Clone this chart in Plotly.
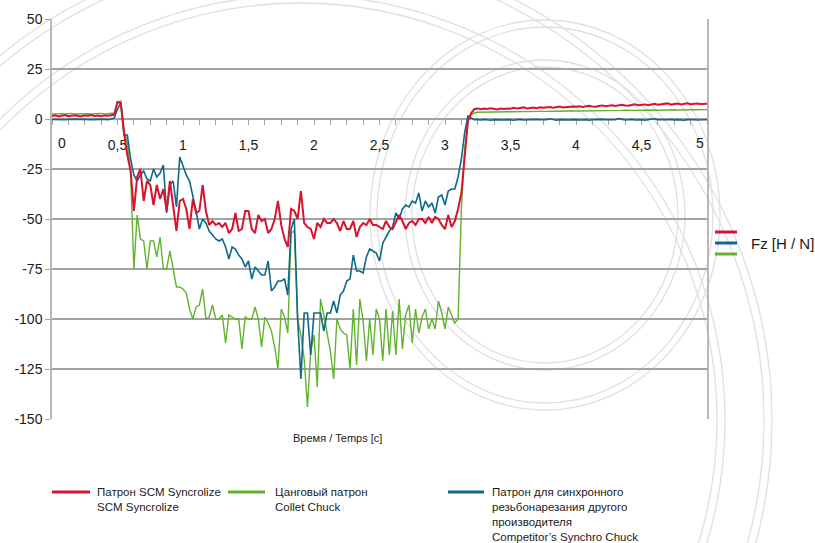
import numpy as np
import plotly.graph_objects as go

# Axial force Fz [N] during a tapping cycle, sampled every 25 ms (0 ... 5 s)
DT = 0.025

scm_syncrolize = (
    [1.5, 1.8, 1.3, 1.6, 2.0, 1.4, 1.7, 1.9, 1.5, 1.3, 1.8, 1.6, 2.0, 1.5, 1.7, 1.4, 1.8, 1.6, 1.9]
    + [2.2, 8.5, 8.0, -7, -18, -26]
    + [-46, -29, -25, -41, -31, -33, -43, -33, -40, -35, -46, -31, -43, -56, -41, -40, -45, -55, -40, -47]
    + [-46, -33, -46, -53, -51, -53, -52, -54, -52, -57, -55, -47, -56, -55, -46, -46, -55, -57, -48, -51,
       -50, -57, -55, -50, -41, -53, -60, -64, -45, -46, -50, -36, -52, -54]
    + [-55, -60, -52, -54, -50, -52, -52, -50, -52, -56, -51, -55, -55, -51, -59, -54, -52, -53, -50, -53]
    + [-53, -54, -55, -51, -54, -55, -51, -48, -51, -55, -52, -51, -53, -50, -50, -52, -49, -52, -49, -50,
       -53, -55, -48, -54, -51, -45, -37, -19, -1, 3, 5]
    + [5.3, 4.9, 5.2, 5.0, 5.4, 5.1, 4.8, 5.2, 5.0, 5.3, 5.1,
       5.6, 5.2, 5.5, 5.8, 5.3, 5.5, 5.7, 5.4, 5.9, 5.6, 5.8, 6.0, 5.6, 5.9, 6.2, 5.8, 6.0, 5.9, 6.3, 6.1,
       6.4, 6.0, 6.2, 6.6, 6.3, 6.1, 6.5, 6.8, 6.4, 6.6, 6.9, 6.5, 6.7, 7.1, 6.8, 6.6, 7.0, 7.4, 6.9, 7.1,
       7.3, 6.9, 7.2, 7.6, 7.1, 7.3, 7.5, 7.8, 7.2, 7.4, 7.7, 7.3, 7.5, 7.9, 7.4, 7.6, 7.8, 7.5, 7.7, 7.6]
)

collet_chuck = (
    [2.5, 2.6, 2.4, 2.7, 2.5, 2.6, 2.8, 2.5, 2.6, 2.4, 2.7, 2.6, 2.5, 2.7, 2.6, 2.8, 2.5, 2.6, 2.7]
    + [3, 8.5, 9, -6, -12, -27]
    + [-75, -48, -60, -61, -75, -61, -61, -69, -59, -75, -75, -66, -76, -84, -84, -85, -87, -95, -100, -94]
    + [-93, -85, -100, -99, -93, -100, -100, -98, -112, -98, -99, -100, -100, -115, -99, -100, -100, -94,
       -100, -114, -99, -102, -106, -114, -125, -95, -99, -107, -57, -56, -100, -108, -120, -144]
    + [-116, -108, -134, -90, -98, -108, -116, -130, -100, -105, -107, -108, -125, -95, -123]
    + [-90, -101, -121, -100, -118, -95, -100, -121, -95, -118, -96, -118, -90, -115, -98, -93, -112, -95,
       -107, -99, -95, -105, -100, -105, -91, -97, -105, -94, -98, -102, -100, -45, -15, -1, 2, 3]
    + [3.4, 3.5, 3.4, 3.6, 3.5, 3.5, 3.6, 3.5, 3.7, 3.6,
       3.6, 3.7, 3.6, 3.8, 3.7, 3.7, 3.8, 3.7, 3.9, 3.8,
       3.8, 3.9, 3.8, 4.0, 3.9, 3.9, 4.0, 3.9, 4.0, 4.1,
       4.0, 4.0, 4.1, 4.0, 4.2, 4.1, 4.1, 4.2, 4.1, 4.3,
       4.2, 4.2, 4.3, 4.2, 4.3, 4.4, 4.3, 4.3, 4.4, 4.3,
       4.4, 4.5, 4.4, 4.4, 4.5, 4.4, 4.5, 4.6, 4.5, 4.5,
       4.6, 4.5, 4.6, 4.6, 4.7, 4.6, 4.6, 4.7, 4.6, 4.7, 4.7]
)

competitor_chuck = (
    [-0.2, -0.3, -0.1, -0.2, -0.4, -0.2, -0.1, -0.3, -0.2, -0.2, -0.3, -0.1, -0.2, -0.3, -0.2, -0.1, -0.2, -0.3, -0.1]
    + [0.5, 5, 8, -8, -8, -20]
    + [-28, -31, -28, -26, -30, -31, -25, -29, -27, -23, -47, -33, -31, -44, -19, -23, -28, -31, -38, -46]
    + [-55, -50, -52, -56, -58, -60, -61, -60, -64, -70, -64, -65, -68, -70, -74, -71, -80, -74, -76, -78,
       -78, -71, -86, -84, -81, -81, -80, -88, -55, -50, -100, -130, -97, -97]
    + [-118, -97, -97, -97, -106, -97, -97, -91, -97, -88, -86, -81, -80, -68, -76, -76, -77, -69, -65, -66]
    + [-67, -71, -62, -59, -56, -54, -47, -50, -45, -43, -44, -41, -42, -37, -46, -41, -44, -42, -47, -39,
       -38, -43, -36, -35, -35, -29, -20, -7, 1.5, 0.5, -0.3]
    + [-0.3, -0.5, -0.2, -0.4, -0.6, -0.3, -0.4, -0.2, -0.5, -0.3,
       -0.4, -0.6, -0.3, -0.2, -0.5, -0.4, -0.3, -0.5, -0.2, -0.4,
       -0.5, -0.3, 0.1, -0.4, -0.6, -0.3, -0.4, -0.2, -0.5, -0.3,
       -0.4, -0.2, -0.5, -0.3, -0.6, -0.4, -0.3, -0.5, -0.2, -0.4,
       -0.3, -0.5, -0.4, 0.2, -0.3, -0.5, -0.4, -0.2, -0.5, -0.3,
       -0.4, -0.6, -0.3, -0.2, 0.1, -0.4, -0.5, -0.3, -0.4, -0.2,
       -0.5, -0.3, -0.4, -0.6, -0.3, -0.2, -0.4, -0.5, -0.3, -0.4, -0.3]
)

y_ticks = [50, 25, 0, -25, -50, -75, -100, -125, -150]
x_ticks = [0, 0.5, 1, 1.5, 2, 2.5, 3, 3.5, 4, 4.5, 5]
x_labels = ["0", "0,5", "1", "1,5", "2", "2,5", "3", "3,5", "4", "4,5", "5"]

scm_name = "Патрон SCM Syncrolize<br>SCM Syncrolize"
collet_name = "Цанговый патрон<br>Collet Chuck"
competitor_name = ("Патрон для синхронного<br>резьбонарезания другого<br>производителя<br>"
                   "Competitor’s Synchro Chuck")
quantity_label = "Fz [H / N]"
time_label = "Время / Temps [c]"

RED = "#d8132f"
GREEN = "#62b22f"
TEAL = "#0f6888"
GRID = "#a3a3a3"
FAINT = "#e0e0e0"
SANS = "Liberation Sans, Arial, sans-serif"
INK = "#1a1a1a"

series = [
    (collet_name, collet_chuck, GREEN, 1.4),
    (competitor_name, competitor_chuck, TEAL, 1.6),
    (scm_name, scm_syncrolize, RED, 2.0),
]

fig = go.Figure()
for name, values, color, width in series:
    t = np.arange(len(values)) * DT
    fig.add_trace(go.Scatter(
        x=t, y=values, mode="lines", name=name.replace("<br>", " "),
        showlegend=False, line=dict(color=color, width=width),
    ))


# the plot area is 655 x 400 px, starting at (52, 19) from the top-left corner
def px_x(px):
    return (px - 52) / 655


def px_y(py):
    return (419 - py) / 400


def key_line(x0, x1, py, color):
    return dict(type="line", xref="paper", yref="paper",
                x0=px_x(x0), x1=px_x(x1), y0=px_y(py), y1=px_y(py),
                line=dict(color=color, width=3))


def key_text(text, px, py, size, anchor="top"):
    return dict(text=text, xref="paper", yref="paper", x=px_x(px), y=px_y(py),
                xanchor="left", yanchor=anchor, align="left", showarrow=False,
                font=dict(family=SANS, size=size, color=INK))


def ring(cx, cy, rx, ry):
    # faint background outline of the chuck drawing
    return dict(type="circle", xref="paper", yref="paper", layer="below",
                x0=px_x(cx - rx), x1=px_x(cx + rx), y0=px_y(cy + ry), y1=px_y(cy - ry),
                line=dict(color=FAINT, width=1.3))


shapes = [
    ring(300, 420, 425, 425), ring(300, 420, 417, 417),
    ring(300, 420, 472, 472), ring(300, 420, 464, 464),
    ring(545, 215, 175, 195), ring(545, 215, 168, 188),
    ring(545, 215, 140, 155), ring(545, 215, 133, 148),
    # side key: one label for the three force curves
    key_line(715, 737, 232, RED),
    key_line(715, 737, 243, TEAL),
    key_line(715, 737, 254, GREEN),
    # bottom key
    key_line(52, 90, 492, RED),
    key_line(228, 265, 492, GREEN),
    key_line(448, 484, 492, TEAL),
]

# the end labels of the time axis sit slightly inside the plot edges
inner_labels = {0: 10, 5: -7}
tick_text = [("" if v in inner_labels else lab) for v, lab in zip(x_ticks, x_labels)]

annotations = [
    key_text(quantity_label, 749, 243, 15, anchor="middle"),
    key_text(scm_name, 95, 484, 11.5),
    key_text(collet_name, 273, 484, 11.5),
    key_text(competitor_name, 490, 484, 11.5),
    dict(text=time_label, xref="paper", yref="paper", x=px_x(337), y=px_y(438),
         xanchor="center", yanchor="middle", showarrow=False,
         font=dict(family=SANS, size=11, color=INK)),
]
for v, lab in zip(x_ticks, x_labels):
    if v in inner_labels:
        annotations.append(dict(
            text=lab, xref="x", yref="paper", x=v, y=px_y(143), xshift=inner_labels[v],
            xanchor="center", yanchor="middle", showarrow=False,
            font=dict(family=SANS, size=14, color=INK)))

fig.update_layout(
    width=815, height=543,
    margin=dict(l=52, r=108, t=19, b=124, autoexpand=False),
    paper_bgcolor="white", plot_bgcolor="rgba(0,0,0,0)",
    separators=", ",
    showlegend=False,
    font=dict(family=SANS, size=14, color=INK),
    xaxis=dict(
        range=[0, 5], anchor="free", position=0.75, layer="below traces",
        tickvals=x_ticks, ticktext=tick_text,
        showgrid=False, zeroline=False,
        showline=True, linecolor=GRID, linewidth=1.5,
        ticks="outside", ticklen=5, tickcolor=GRID, tickwidth=1,
        ticklabelstandoff=8,
        minor=dict(dtick=0.125, tick0=0, ticks="outside", ticklen=5, tickcolor=GRID, showgrid=False),
    ),
    yaxis=dict(
        range=[-150, 50], tickvals=y_ticks, ticktext=[str(v) for v in y_ticks],
        layer="below traces",
        showgrid=True, gridcolor=GRID, gridwidth=1.5, zeroline=False,
        showline=True, mirror=True, linecolor="#b8b8b8", linewidth=1.5,
        ticks="outside", ticklen=5, tickcolor=GRID,
    ),
    shapes=shapes,
    annotations=annotations,
)

fig.write_html("out.html")
